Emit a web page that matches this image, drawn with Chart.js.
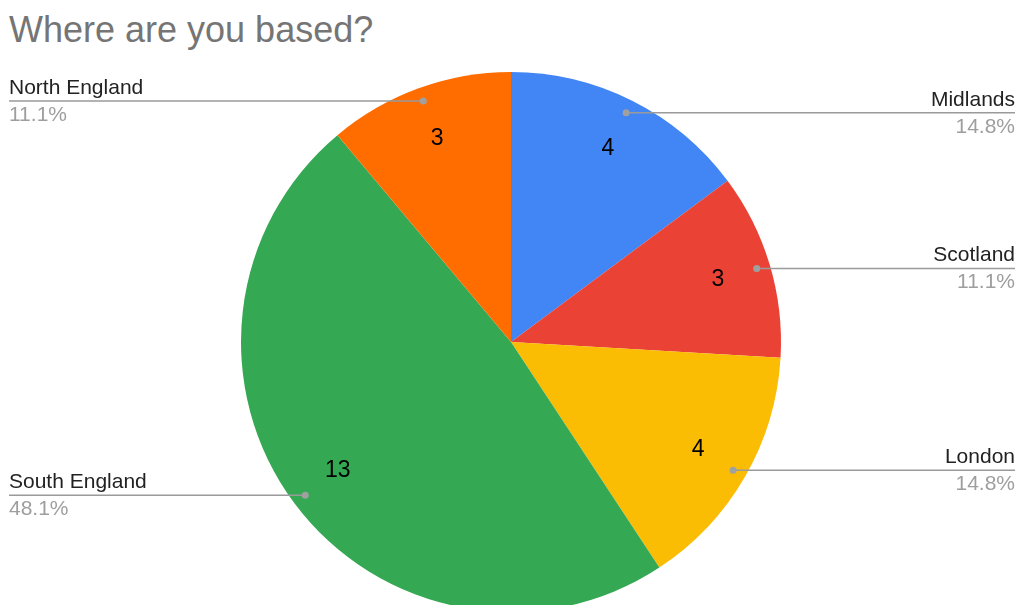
<!DOCTYPE html>
<html>
<head>
<meta charset="utf-8">
<script src="https://cdn.jsdelivr.net/npm/chart.js@4.4.0/dist/chart.umd.min.js"></script>
<style>
  html, body { margin: 0; padding: 0; background: #fff; overflow: hidden; }
  .title {
    position: absolute; left: 9px; top: 12px;
    font-family: "Liberation Sans", Arial, sans-serif;
    font-size: 36px; line-height: 36px; color: #757575; margin: 0; font-weight: normal;
  }
  .wrap { position: absolute; left: 0; top: 0; width: 1015px; height: 625px; }
</style>
</head>
<body>
<h1 class="title">Where are you based?</h1>
<div class="wrap"><canvas id="pie"></canvas></div>
<script>
// chart data
const regions = ['Midlands', 'Scotland', 'London', 'South England', 'North England'];
const counts = [4, 3, 4, 13, 3];
const sliceColors = ['#4285F4', '#EA4335', '#FBBC04', '#34A853', '#FF6D01'];

const total = counts.reduce((a, b) => a + b, 0);

// draws the numbers inside slices and the leader lines with labels
const labelPlugin = {
  id: 'sliceLabels',
  afterDatasetsDraw(chart) {
    const ctx = chart.ctx;
    const arcs = chart.getDatasetMeta(0).data;
    const canvasWidth = chart.width;
    ctx.save();
    arcs.forEach((arc, i) => {
      const mid = (arc.startAngle + arc.endAngle) / 2;
      const R = arc.outerRadius;

      // value inside slice
      ctx.fillStyle = '#000';
      ctx.font = '23px "Liberation Sans", Arial, sans-serif';
      ctx.textAlign = 'center';
      ctx.textBaseline = 'middle';
      const vx = arc.x + R * 0.8 * Math.cos(mid);
      const vy = arc.y + R * 0.8 * Math.sin(mid);
      ctx.fillText(String(counts[i]), vx, vy);

      // leader line
      const dx = arc.x + R * 0.95 * Math.cos(mid);
      const dy = arc.y + R * 0.95 * Math.sin(mid);
      const onRight = dx > arc.x;
      const endX = onRight ? canvasWidth : 9;
      ctx.strokeStyle = '#9a9a9a';
      ctx.lineWidth = 1.5;
      ctx.beginPath();
      ctx.moveTo(dx, dy);
      ctx.lineTo(endX, dy);
      ctx.stroke();
      ctx.fillStyle = '#a0a0a0';
      ctx.beginPath();
      ctx.arc(dx, dy, 3.5, 0, Math.PI * 2);
      ctx.fill();

      // name and percent
      ctx.textAlign = onRight ? 'right' : 'left';
      ctx.textBaseline = 'alphabetic';
      ctx.font = '21px "Liberation Sans", Arial, sans-serif';
      ctx.fillStyle = '#222222';
      ctx.fillText(regions[i], endX, dy - 7);
      ctx.fillStyle = '#9e9e9e';
      const pct = (counts[i] / total * 100).toFixed(1) + '%';
      ctx.fillText(pct, endX, dy + 20);
    });
    ctx.restore();
  }
};

new Chart(document.getElementById('pie'), {
  type: 'pie',
  data: {
    labels: regions,
    datasets: [{
      data: counts,
      backgroundColor: sliceColors,
      borderWidth: 0
    }]
  },
  options: {
    responsive: true,
    maintainAspectRatio: false,
    animation: false,
    layout: {
      padding: { top: 72, bottom: 13, left: 241, right: 234 }
    },
    plugins: {
      legend: { display: false },
      tooltip: { enabled: false }
    }
  },
  plugins: [labelPlugin]
});
</script>
</body>
</html>
